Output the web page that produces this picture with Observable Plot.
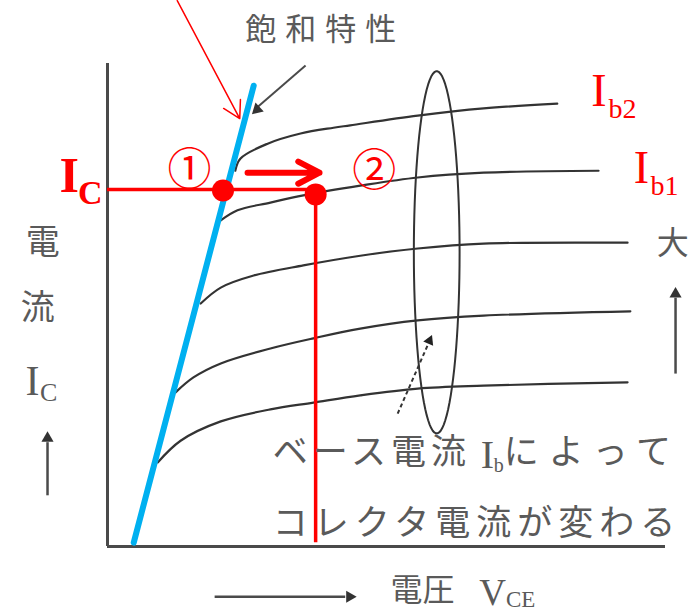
<!DOCTYPE html>
<html>
<head>
<meta charset="utf-8">
<script src="https://cdn.jsdelivr.net/npm/d3@7"></script>
<script src="https://cdn.jsdelivr.net/npm/@observablehq/plot@0.6"></script>
<style>
  body { margin: 0; background: #fff; }
</style>
</head>
<body>
<div id="chart"></div>
<script>
// Collector characteristics: Ic vs Vce for five base currents (arbitrary units, 0–100)
const vceIb2 = [22.9, 23.8, 28.7, 34.6, 40.5, 43.5, 55.6, 67.4, 80.6];
const icIb2  = [77.8, 80.3, 83.4, 85.5, 86.7, 87.2, 89.2, 90.7, 91.7];
const vceIb1 = [20.3, 23.3, 29.2, 35.1, 45.3, 55.6, 67.4, 88.0];
const icIb1  = [67.5, 69.6, 71.2, 72.7, 74.7, 76.4, 77.4, 77.8];
const vceIb3 = [16.7, 20.3, 26.2, 35.1, 45.3, 55.6, 67.4, 93.2];
const icIb3  = [50.3, 53.6, 56.1, 58.2, 60.2, 61.7, 62.7, 62.9];
const vceIb4 = [12.2, 15.4, 20.3, 29.2, 36.9, 45.3, 55.6, 67.4, 93.7];
const icIb4  = [31.9, 35.0, 37.9, 41.0, 43.1, 45.1, 46.8, 47.8, 48.7];
const vceIb5 = [9.0, 13.1, 20.3, 29.2, 36.9, 45.3, 55.6, 67.4, 93.2];
const icIb5  = [17.4, 21.9, 25.9, 28.4, 29.8, 31.3, 32.7, 33.3, 34.0];

// Saturation boundary (blue line)
const saturationVce = [4.7, 26.2];
const saturationIc  = [0.8, 95.4];

// Operating points ① and ②, and the collector current level
const pointVce = [20.7, 37.3];
const pointIc  = [73.7, 72.9];
const icLevel  = 73.9;

// Ellipse grouping the curves (center and radii)
const ellipseCenter = [59.0, 60.9];
const ellipseRadii  = [4.1, 37.5];

const JP = "'Noto Sans CJK JP', sans-serif";
const SERIF = "'Liberation Serif', 'DejaVu Serif', serif";
const GRAY = "#4a4a4a";
const TEXTGRAY = "#5a5a5a";
const RED = "#ff0000";
const BLUE = "#00b0f0";

// extra letter spacing (px) for the Japanese captions
const letterSpacing = {
  "飽和特性": 9,
  "ベース電流": 5,
  "によって": 10,
  "コレクタ電流が変わる": 6
};

const series = [
  ["Ib2", vceIb2, icIb2],
  ["Ib1", vceIb1, icIb1],
  ["Ib3", vceIb3, icIb3],
  ["Ib4", vceIb4, icIb4],
  ["Ib5", vceIb5, icIb5]
];
const curveRows = series.flatMap(([name, vs, is]) => vs.map((v, k) => ({name, vce: v, ic: is[k]})));
const saturationRows = saturationVce.map((v, k) => ({vce: v, ic: saturationIc[k]}));
const pointRows = pointVce.map((v, k) => ({vce: v, ic: pointIc[k]}));
const ellipseRows = d3.range(0, 361, 4).map(a => ({
  vce: ellipseCenter[0] + ellipseRadii[0] * Math.cos(a * Math.PI / 180),
  ic: ellipseCenter[1] + ellipseRadii[1] * Math.sin(a * Math.PI / 180)
}));

// single-string text annotation placed in data coordinates
const note = (text, x, y, opts) =>
  Plot.text([text], {x: () => x, y: () => y, text: d => d, ...opts});

// filled arrowhead
const head = (x, y, rotate, r, fill) =>
  Plot.dot([0], {x: () => x, y: () => y, symbol: "triangle", rotate, r, fill, stroke: "none"});

const chart = Plot.plot({
  width: 696,
  height: 613,
  marginLeft: 107,
  marginRight: 31,
  marginTop: 63,
  marginBottom: 67,
  x: {domain: [0, 100], axis: null},
  y: {domain: [0, 100], axis: null},
  style: {background: "#fff", overflow: "visible"},
  marks: [
    // axes
    Plot.ruleX([0], {y1: 0, y2: 100, stroke: GRAY, strokeWidth: 3}),
    Plot.ruleY([0], {x1: 0, x2: 100, stroke: GRAY, strokeWidth: 3}),

    // characteristic curves
    Plot.line(curveRows, {x: "vce", y: "ic", z: "name", stroke: "#333", strokeWidth: 2.2, curve: "catmull-rom"}),

    // ellipse and its dashed leader
    Plot.line(ellipseRows, {x: "vce", y: "ic", stroke: "#333", strokeWidth: 2}),
    Plot.link([0], {x1: () => 52.0, y1: () => 27.5, x2: () => 57.5, y2: () => 42.0, stroke: "#333", strokeWidth: 2, strokeDasharray: "4,3"}),
    head(57.7, 42.6, 24, 4, "#222"),

    // saturation pointer from label
    Plot.link([0], {x1: () => 35.5, y1: () => 99.6, x2: () => 26.9, y2: () => 91.0, stroke: GRAY, strokeWidth: 2}),
    head(26.8, 90.5, 227, 4.5, "#333"),
    note("飽和特性", 24.7, 107.0, {fontFamily: JP, fontSize: 31, fill: TEXTGRAY, textAnchor: "start", lineAnchor: "middle"}),

    // red pointer from above
    Plot.arrow([0], {x1: () => 12.5, y1: () => 113.0, x2: () => 23.7, y2: () => 88.6, stroke: RED, strokeWidth: 1.5, headLength: 19, headAngle: 60}),

    // red operating-point guides
    Plot.ruleY([icLevel], {x1: 0, x2: pointVce[1], stroke: RED, strokeWidth: 3.5}),
    Plot.ruleX([pointVce[1]], {y1: 0.8, y2: pointIc[1], stroke: RED, strokeWidth: 3.5}),

    // saturation line
    Plot.line(saturationRows, {x: "vce", y: "ic", stroke: BLUE, strokeWidth: 6}),

    // operating points
    Plot.dot(pointRows, {x: "vce", y: "ic", r: 11, fill: RED, stroke: "none"}),

    // shift arrow ① → ②
    Plot.arrow([0], {x1: () => 25.1, y1: () => 77.4, x2: () => 38.0, y2: () => 77.4, stroke: RED, strokeWidth: 6, headLength: 7, headAngle: 55}),
    note("①", 14.7, 77.8, {fontFamily: JP, fontSize: 44, fill: RED, lineAnchor: "middle"}),
    note("②", 47.8, 77.6, {fontFamily: JP, fontSize: 44, fill: RED, lineAnchor: "middle"}),

    // Ic label (red)
    note("I", -8.6, 73.3, {fontFamily: SERIF, fontSize: 50, fontWeight: "bold", fill: RED, textAnchor: "start", lineAnchor: "bottom"}),
    note("C", -5.3, 71.0, {fontFamily: SERIF, fontSize: 34, fontWeight: "bold", fill: RED, textAnchor: "start", lineAnchor: "bottom"}),

    // Ib2 / Ib1 labels
    note("I", 86.7, 91.1, {fontFamily: SERIF, fontSize: 46, fill: RED, textAnchor: "start", lineAnchor: "bottom"}),
    note("b2", 89.8, 88.8, {fontFamily: SERIF, fontSize: 28, fill: RED, textAnchor: "start", lineAnchor: "bottom"}),
    note("I", 94.3, 75.2, {fontFamily: SERIF, fontSize: 46, fill: RED, textAnchor: "start", lineAnchor: "bottom"}),
    note("b1", 97.3, 72.7, {fontFamily: SERIF, fontSize: 28, fill: RED, textAnchor: "start", lineAnchor: "bottom"}),

    // right-hand "larger" arrow
    note("大", 101.3, 62.7, {fontFamily: JP, fontSize: 32, fill: TEXTGRAY, lineAnchor: "middle"}),
    Plot.link([0], {x1: () => 101.8, y1: () => 35.8, x2: () => 101.8, y2: () => 51.5, stroke: GRAY, strokeWidth: 2.5}),
    head(101.8, 52.3, 0, 4.5, "#333"),

    // left vertical axis title
    note("電", -11.6, 62.9, {fontFamily: JP, fontSize: 34, fill: TEXTGRAY, lineAnchor: "middle"}),
    note("流", -12.5, 49.3, {fontFamily: JP, fontSize: 34, fill: TEXTGRAY, lineAnchor: "middle"}),
    note("I", -14.7, 31.3, {fontFamily: SERIF, fontSize: 42, fill: TEXTGRAY, textAnchor: "start", lineAnchor: "bottom"}),
    note("C", -12.1, 30.2, {fontFamily: SERIF, fontSize: 26, fill: TEXTGRAY, textAnchor: "start", lineAnchor: "bottom"}),
    Plot.link([0], {x1: () => -10.75, y1: () => 10.6, x2: () => -10.75, y2: () => 21.6, stroke: GRAY, strokeWidth: 2.5}),
    head(-10.75, 22.4, 0, 4.5, "#333"),

    // explanatory caption inside the plot
    note("ベース電流", 29.6, 19.5, {fontFamily: JP, fontSize: 35, fill: TEXTGRAY, textAnchor: "start", lineAnchor: "middle"}),
    note("I", 66.9, 16.3, {fontFamily: SERIF, fontSize: 40, fill: TEXTGRAY, textAnchor: "start", lineAnchor: "bottom"}),
    note("b", 69.2, 15.4, {fontFamily: SERIF, fontSize: 20, fill: TEXTGRAY, textAnchor: "start", lineAnchor: "bottom"}),
    note("によって", 71.0, 19.5, {fontFamily: JP, fontSize: 35, fill: TEXTGRAY, textAnchor: "start", lineAnchor: "middle"}),
    note("コレクタ電流が変わる", 29.6, 4.8, {fontFamily: JP, fontSize: 35, fill: TEXTGRAY, textAnchor: "start", lineAnchor: "middle"}),

    // horizontal axis title
    Plot.link([0], {x1: () => 19.2, y1: () => -10.4, x2: () => 42.6, y2: () => -10.4, stroke: GRAY, strokeWidth: 2.5}),
    head(43.4, -10.4, 90, 4.5, "#333"),
    note("電圧", 50.7, -9.1, {fontFamily: JP, fontSize: 32, fill: TEXTGRAY, textAnchor: "start", lineAnchor: "middle"}),
    note("V", 66.6, -12.2, {fontFamily: SERIF, fontSize: 37, fill: TEXTGRAY, textAnchor: "start", lineAnchor: "bottom"}),
    note("CE", 71.4, -12.5, {fontFamily: SERIF, fontSize: 23, fill: TEXTGRAY, textAnchor: "start", lineAnchor: "bottom"})
  ]
});

// widen the Japanese captions
d3.select(chart).selectAll("text").each(function () {
  const s = letterSpacing[this.textContent];
  if (s) this.style.letterSpacing = s + "px";
});

document.getElementById("chart").appendChild(chart);
</script>
</body>
</html>
